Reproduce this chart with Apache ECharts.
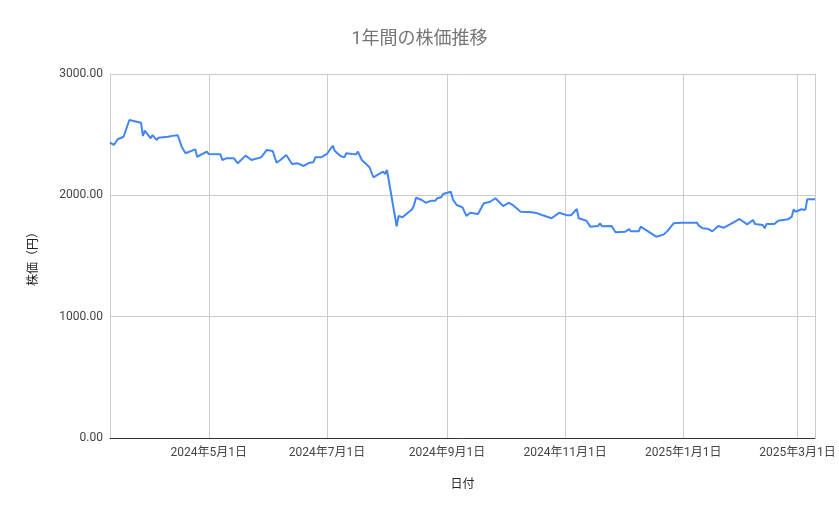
<!DOCTYPE html>
<html>
<head>
<meta charset="utf-8">
<script src="https://cdn.jsdelivr.net/npm/echarts@6/dist/echarts.min.js"></script>
<style>
html,body{margin:0;padding:0;background:#fff;}
#c{width:839px;height:519px;}
</style>
</head>
<body>
<div id="c"></div>
<script>
const titleText = '1年間の株価推移';
const xName = '日付';
const yName = '株価（円）';
const yTicks = [0, 1000, 2000, 3000];

const dates = [
'2024-03-11','2024-03-13','2024-03-15','2024-03-18','2024-03-21','2024-03-27','2024-03-28','2024-03-29',
'2024-04-01','2024-04-02','2024-04-04','2024-04-05','2024-04-10','2024-04-12','2024-04-15','2024-04-16',
'2024-04-17','2024-04-18','2024-04-19','2024-04-20','2024-04-24','2024-04-25','2024-04-30',
'2024-05-01','2024-05-07','2024-05-08','2024-05-10','2024-05-14','2024-05-15','2024-05-16','2024-05-20',
'2024-05-23','2024-05-24','2024-05-28','2024-05-29','2024-05-31',
'2024-06-03','2024-06-04','2024-06-05','2024-06-07','2024-06-10','2024-06-13','2024-06-16','2024-06-19',
'2024-06-22','2024-06-24','2024-06-25','2024-06-28',
'2024-07-01','2024-07-02','2024-07-04','2024-07-05','2024-07-08','2024-07-10','2024-07-11','2024-07-14',
'2024-07-16','2024-07-17','2024-07-19','2024-07-23','2024-07-25','2024-07-28','2024-07-30','2024-07-31',
'2024-08-01','2024-08-06','2024-08-07','2024-08-09','2024-08-14','2024-08-15','2024-08-16','2024-08-19',
'2024-08-21','2024-08-24','2024-08-26','2024-08-27','2024-08-29','2024-08-30',
'2024-09-03','2024-09-04','2024-09-05','2024-09-06','2024-09-09','2024-09-11','2024-09-13','2024-09-17',
'2024-09-20','2024-09-23','2024-09-26','2024-09-30',
'2024-10-03','2024-10-05','2024-10-09','2024-10-15','2024-10-17','2024-10-20','2024-10-25','2024-10-29',
'2024-11-02','2024-11-04','2024-11-05','2024-11-07','2024-11-08','2024-11-12','2024-11-14','2024-11-18',
'2024-11-19','2024-11-20','2024-11-25','2024-11-27',
'2024-12-02','2024-12-04','2024-12-05','2024-12-09','2024-12-10','2024-12-18','2024-12-22','2024-12-24',
'2024-12-27','2024-12-31',
'2025-01-05','2025-01-08','2025-01-09','2025-01-11','2025-01-14','2025-01-16','2025-01-19','2025-01-22',
'2025-01-27','2025-01-28','2025-01-30',
'2025-02-03','2025-02-06','2025-02-07','2025-02-11','2025-02-12','2025-02-13','2025-02-17','2025-02-19',
'2025-02-24','2025-02-26','2025-02-27','2025-02-28',
'2025-03-03','2025-03-05','2025-03-06','2025-03-07','2025-03-10'
];

const prices = [
2434,2415,2462,2483,2621,2599,2489,2533,
2470,2497,2456,2475,2483,2490,2495,2492,
2401,2374,2347,2360,2379,2318,2360,
2340,2338,2291,2305,2305,2310,2264,2327,
2291,2280,2313,2305,2374,
2365,2350,2269,2291,2332,2258,2264,2242,
2269,2272,2313,2313,
2341,2350,2409,2368,2324,2313,2347,2341,
2338,2360,2291,2231,2149,2176,2195,2176,
2209,1745,1830,1819,1885,1920,1980,1962,
1939,1956,1956,1976,1984,2011,
2030,1967,1960,1920,1901,1830,1857,1846,
1934,1945,1976,1912,
1939,1920,1865,1860,1855,1838,1811,1857,
1835,1835,1830,1887,1811,1791,1742,1747,
1769,1745,1747,1695,
1700,1722,1703,1703,1742,1659,1678,1709,
1769,1775,
1775,1775,1750,1728,1722,1703,1747,1733,
1778,1780,1805,
1761,1797,1764,1755,1728,1764,1764,1791,
1802,1824,1885,1865,
1885,1880,1967,1976,1967
];

const xMin = '2024-03-11';
const xMax = '2025-03-10';

const font = "Roboto, 'Noto Sans CJK JP', 'Noto Sans', sans-serif";
const chart = echarts.init(document.getElementById('c'), null, {renderer: 'canvas'});
chart.setOption({
  animation: false,
  backgroundColor: '#ffffff',
  title: {
    text: titleText,
    left: 'center',
    top: 26,
    textStyle: {fontFamily: font, fontSize: 18, fontWeight: 'normal', color: '#757575'}
  },
  grid: {left: 110, right: 24, top: 74, bottom: 81},
  xAxis: {
    type: 'time',
    min: xMin,
    max: xMax,
    splitNumber: 6,
    name: xName,
    nameLocation: 'middle',
    nameGap: 41,
    nameTextStyle: {fontFamily: font, fontSize: 12, color: '#222'},
    axisLine: {show: true, onZero: false, lineStyle: {color: '#333', width: 1}},
    axisTick: {show: false},
    axisLabel: {
      fontFamily: font, fontSize: 12, color: '#444', margin: 9,
      showMinLabel: false, showMaxLabel: false,
      formatter: function (v) { return echarts.time.format(v, '{yyyy}年{M}月{d}日', false); }
    },
    splitLine: {show: true, lineStyle: {color: '#cccccc', width: 1}}
  },
  yAxis: {
    type: 'value',
    min: yTicks[0],
    max: yTicks[yTicks.length - 1],
    interval: 1000,
    name: yName,
    nameLocation: 'middle',
    nameGap: 70,
    nameTextStyle: {fontFamily: font, fontSize: 12, color: '#222'},
    axisLine: {show: false},
    axisTick: {show: false},
    axisLabel: {fontFamily: font, fontSize: 12, color: '#444', margin: 7,
      formatter: function (v) { return v.toFixed(2); }},
    splitLine: {show: true, lineStyle: {color: '#cccccc', width: 1}}
  },
  series: [{
    type: 'line',
    data: dates.map(function (d, i) { return [d, prices[i]]; }),
    showSymbol: false,
    symbol: 'none',
    lineStyle: {color: '#4285f4', width: 2},
    itemStyle: {color: '#4285f4'}
  }]
});
</script>
</body>
</html>
